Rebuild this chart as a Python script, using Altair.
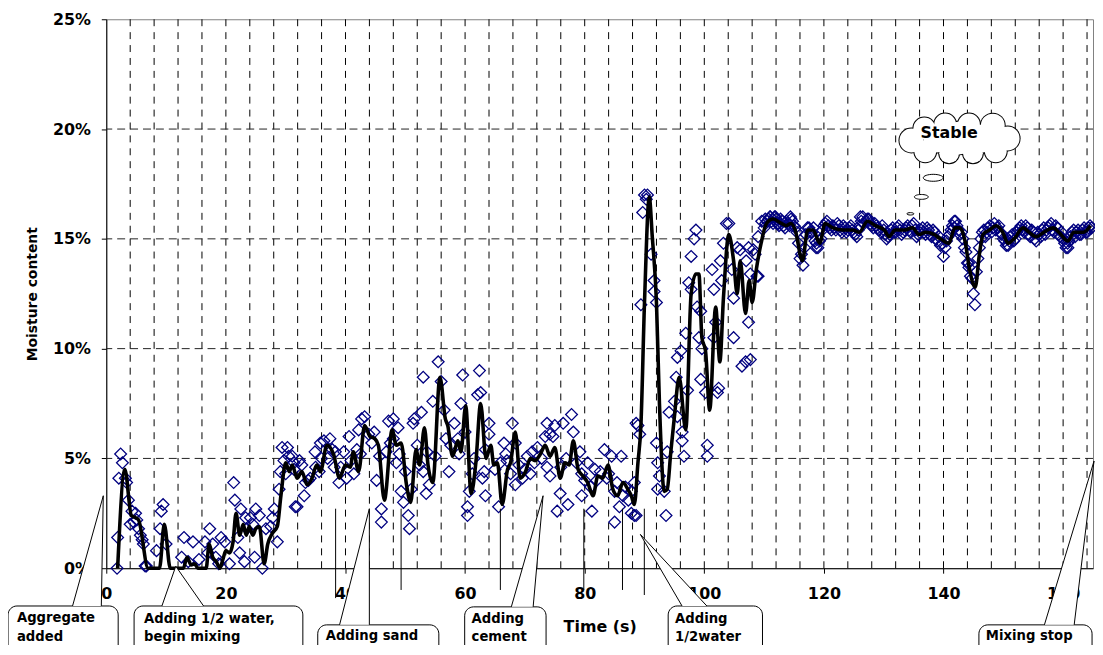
import altair as alt
import pandas as pd

# ---------------- data ----------------
# smoothed (black) line
line_t = [1.9, 3.1, 4.2, 4.9, 5.4, 7.0, 8.9, 9.7, 10.7, 12.9,
          13.5, 14.2, 14.8, 15.3, 16.7, 17.2, 17.8, 18.4, 19.0, 19.5,
          20.0, 20.6, 21.2, 21.7, 22.3, 22.9, 23.4, 23.9, 24.5, 25.0,
          25.6, 26.4, 27.0, 27.8, 28.6, 29.2, 30.0, 30.6, 31.1, 31.9,
          32.7, 33.6, 34.4, 35.2, 35.8, 36.9, 38.0, 39.0, 40.0, 40.8,
          41.3, 42.2, 43.2, 44.1, 44.9, 45.5, 46.5, 47.8, 48.5, 49.3,
          50.2, 50.9, 51.8, 52.4, 53.2, 53.8, 54.6, 55.8, 56.7, 57.1,
          57.9, 58.8, 59.3, 60.1, 61.0, 61.8, 62.6, 63.5, 64.3, 64.8,
          65.4, 66.2, 67.1, 67.6, 68.4, 69.2, 70.1, 70.9, 71.7, 72.6,
          73.4, 74.2, 75.0, 75.9, 76.7, 77.4, 78.1, 78.9, 79.7, 80.5,
          81.4, 82.2, 83.0, 83.9, 84.7, 85.5, 86.4, 87.2, 87.8, 88.3,
          88.9, 89.4, 90.0, 90.8, 91.3, 92.0, 92.5, 93.3, 93.8, 94.4,
          95.0, 95.8, 96.9, 97.8, 98.6, 99.1, 99.6, 100.2, 100.9, 101.9,
          102.6, 103.2, 104.1, 104.9, 105.5, 106.0, 106.9, 107.5, 108.0, 108.7,
          109.5, 110.4, 111.5, 112.9, 113.7, 114.5, 115.2, 116.4, 117.3, 118.2,
          119.3, 120.2, 121.5, 123.2, 124.8, 125.9, 127.3, 128.6, 130.1, 130.9,
          131.9, 133.4, 134.8, 135.9, 137.0, 138.4, 139.5, 140.9, 141.9, 142.7,
          143.6, 144.3, 145.3, 146.0, 146.6, 147.7, 148.8, 149.9, 150.8, 151.8,
          153.3, 154.3, 155.5, 156.8, 158.3, 159.3, 160.8, 161.8, 163.4, 164.6]
line_v = [0, 4.5, 2.4, 2.3, 2.2, 0, 0, 2.0, 0, 0,
          0.5, 0.15, 0.2, 0, 0, 1.1, 0.5, 0.3, 0, 0.4,
          0.8, 0.7, 1.2, 2.5, 1.5, 2.0, 1.5, 1.9, 1.5, 1.8,
          1.9, 0.2, 1.1, 1.6, 1.9, 3.3, 4.8, 4.4, 4.7, 4.1,
          4.4, 3.8, 4.1, 4.7, 4.4, 5.6, 5.2, 4.1, 4.7, 4.6,
          5.3, 4.4, 6.5, 6.0, 5.9, 5.6, 3.1, 6.3, 5.6, 5.7,
          3.8, 3.0, 5.4, 4.7, 6.4, 4.7, 3.9, 8.7, 6.8, 6.5,
          5.1, 5.8, 5.3, 7.4, 3.4, 4.8, 7.5, 5.0, 5.6, 4.7,
          4.8, 2.9, 4.5, 4.8, 6.2, 4.1, 4.4, 5.0, 4.9, 5.2,
          5.6, 5.1, 5.5, 4.1, 4.8, 4.7, 5.8, 4.5, 4.2, 3.9,
          3.3, 4.2, 4.1, 4.7, 3.6, 3.3, 3.9, 3.6, 3.3, 2.9,
          4.8, 6.5, 12.1, 16.9, 15.1, 12.1, 7.5, 3.5, 3.6, 5.3,
          6.9, 8.7, 6.3, 12.5, 13.4, 13.4, 10.5, 9.9, 7.2, 11.9,
          9.4, 12.3, 15.2, 14.0, 12.5, 14.0, 11.6, 13.1, 12.1, 13.6,
          14.8, 15.7, 15.9, 15.7, 15.6, 15.7, 15.4, 14.0, 15.4, 15.4,
          14.8, 15.7, 15.5, 15.4, 15.4, 15.3, 15.8, 15.6, 15.4, 15.1,
          15.4, 15.4, 15.5, 15.2, 15.3, 15.2, 15.0, 14.8, 15.5, 15.5,
          14.9, 13.7, 12.8, 14.3, 15.2, 15.4, 15.6, 15.3, 14.8, 15.0,
          15.5, 15.3, 15.1, 15.3, 15.5, 15.3, 14.9, 15.3, 15.3, 15.6]

# raw readings (diamonds), 0 - 113 s
scatter_t = [1.8, 1.9, 2.1, 2.4, 2.7, 3.2, 3.4, 3.7, 4.0, 4.3,
             4.6, 4.9, 5.1, 5.4, 5.7, 6.0, 6.2, 6.5, 6.7, 8.4,
             9.0, 9.2, 9.5, 10.0, 12.6, 13.0, 13.7, 14.5, 15.5, 16.5,
             17.0, 17.3, 17.8, 18.3, 18.8, 19.2, 19.8, 20.6, 21.3, 21.5,
             22.0, 22.3, 22.5, 23.1, 23.3, 23.5, 24.1, 24.5, 24.8, 25.0,
             25.6, 26.1, 26.7, 27.5, 27.8, 28.1, 28.6, 28.9, 29.1, 29.4,
             29.7, 30.0, 30.3, 30.5, 31.1, 31.4, 31.6, 31.4, 31.9, 32.3,
             32.7, 33.1, 33.3, 34.1, 34.9, 35.6, 35.8, 36.4, 37.0, 37.4,
             38.1, 38.3, 38.9, 39.7, 40.2, 40.6, 41.4, 41.9, 42.2, 42.7,
             43.2, 43.9, 44.4, 45.2, 46.0, 46.0, 46.8, 47.2, 48.0, 48.0,
             48.5, 48.8, 49.3, 49.7, 50.5, 50.7, 51.3, 51.5, 52.4, 52.7,
             53.0, 53.0, 53.5, 54.0, 54.6, 55.5, 56.0, 56.5, 56.8, 57.3,
             58.2, 58.8, 59.3, 59.6, 60.4, 60.4, 60.7, 61.5, 62.1, 62.4,
             62.9, 33.8, 35.0, 36.0, 37.8, 39.2, 40.9, 42.5, 44.8, 45.7,
             47.5, 49.0, 50.0, 51.0, 52.0, 53.6, 55.0, 57.6, 59.0, 60.0,
             61.2, 62.6, 63.2, 63.4, 63.4, 64.0, 64.0, 65.6, 65.9, 66.5,
             66.8, 67.6, 67.9, 68.4, 68.4, 69.6, 70.4, 70.9, 71.2, 72.1,
             73.4, 73.7, 73.7, 74.2, 74.2, 74.7, 75.0, 75.4, 75.9, 76.4,
             77.2, 77.8, 78.1, 79.2, 79.5, 79.5, 80.5, 81.2, 81.7, 83.3,
             83.7, 84.5, 85.0, 85.0, 85.8, 86.1, 86.4, 87.8, 87.8, 88.3,
             88.6, 88.3, 65.0, 67.0, 69.0, 70.0, 71.6, 72.8, 76.0, 76.9,
             78.6, 80.0, 81.0, 82.0, 82.6, 84.0, 85.4, 86.8, 87.3, 88.6,
             88.9, 89.2, 89.4, 89.7, 90.0, 90.5, 91.1, 91.6, 91.6, 92.0,
             92.0, 92.2, 92.5, 92.2, 93.3, 93.6, 93.8, 94.1, 95.0, 95.5,
             95.3, 95.5, 96.1, 96.3, 96.3, 96.6, 96.9, 97.2, 97.4, 97.8,
             97.8, 98.3, 98.6, 98.8, 99.1, 99.4, 99.4, 99.6, 100.2, 100.5,
             100.5, 101.3, 101.6, 101.6, 101.9, 102.2, 102.4, 102.7, 102.9, 103.2,
             103.7, 104.1, 104.6, 104.9, 104.9, 105.5, 106.0, 106.3, 106.9, 107.0,
             107.4, 107.4, 107.7, 107.7, 108.2, 108.5, 108.8, 109.0, 109.0, 109.6,
             110.2, 111.0, 111.9, 112.4, 90.3, 114.4, 118.7, 126.1, 141.8, 144.2,
             150.8, 160.8]
scatter_v = [0.0, 1.4, 4.1, 5.2, 4.8, 4.1, 3.9, 3.1, 2.0, 2.6,
             2.1, 2.5, 2.2, 1.8, 1.5, 1.3, 1.1, 0.1, 0.1, 0.8,
             1.8, 2.6, 2.9, 1.1, 0.5, 1.4, 0.3, 1.2, 0.4, 1.2,
             0.7, 1.8, 1.1, 0.5, 0.2, 1.4, 1.2, 0.2, 3.9, 3.1,
             1.4, 0.7, 2.7, 0.3, 2.3, 1.8, 2.3, 2.0, 0.5, 2.7,
             2.4, 0.0, 1.8, 1.9, 2.3, 2.7, 1.2, 3.6, 4.4, 5.5,
             4.9, 4.3, 5.5, 5.1, 5.1, 4.8, 2.8, 4.5, 2.8, 4.9,
             4.7, 3.3, 3.9, 4.1, 5.3, 4.4, 5.7, 5.8, 5.0, 5.9,
             4.6, 5.3, 3.9, 5.3, 4.1, 6.0, 4.3, 5.4, 6.3, 6.8,
             6.9, 6.1, 5.7, 4.0, 2.7, 2.1, 5.3, 6.7, 6.8, 5.9,
             4.8, 6.4, 3.5, 3.0, 2.4, 1.8, 6.6, 6.8, 4.7, 7.1,
             4.4, 8.7, 3.4, 3.8, 7.6, 9.4, 8.5, 7.2, 5.9, 4.4,
             6.6, 5.9, 7.5, 8.8, 2.8, 2.4, 3.5, 5.0, 7.9, 9.0,
             4.1, 4.0, 4.6, 5.0, 5.4, 4.6, 4.9, 5.2, 6.2, 5.1,
             5.7, 5.2, 4.4, 3.6, 5.6, 5.3, 5.1, 5.6, 5.2, 6.2,
             4.3, 8.0, 4.4, 5.4, 3.3, 6.6, 6.1, 2.8, 4.8, 5.7,
             5.2, 4.3, 6.6, 5.7, 3.8, 4.1, 5.1, 4.3, 5.3, 5.5,
             6.0, 6.6, 4.6, 6.1, 4.2, 6.0, 6.5, 2.6, 3.4, 6.6,
             2.9, 7.0, 6.2, 5.3, 4.3, 3.3, 4.8, 2.6, 4.5, 5.4,
             4.1, 5.1, 3.5, 2.1, 2.8, 5.1, 3.3, 2.5, 3.5, 2.4,
             6.6, 3.9, 4.5, 4.9, 4.7, 4.5, 4.8, 5.0, 4.6, 5.0,
             4.8, 4.0, 3.7, 4.0, 4.4, 4.3, 3.9, 3.7, 3.1, 2.4,
             6.5, 6.1, 12.0, 16.2, 17.0, 17.0, 14.3, 13.1, 12.6, 12.1,
             5.7, 4.8, 4.2, 3.6, 3.5, 2.4, 5.3, 7.1, 7.6, 6.9,
             8.7, 9.6, 9.9, 6.2, 5.8, 5.1, 10.7, 8.1, 13.0, 14.2,
             12.7, 15.0, 15.4, 11.9, 10.5, 11.7, 8.6, 10.0, 8.0, 5.6,
             5.1, 13.6, 12.7, 10.5, 11.2, 8.0, 8.2, 14.0, 13.1, 14.8,
             15.7, 15.7, 13.6, 12.3, 10.5, 14.6, 14.5, 9.2, 9.4, 14.0,
             14.6, 11.2, 13.4, 9.5, 14.5, 14.3, 13.3, 15.1, 13.3, 15.8,
             15.9, 16.0, 16.0, 15.7, 16.8, 16.0, 14.6, 16.0, 15.8, 13.9,
             14.7, 14.6]

# stable phase readings, one every 0.5 s starting at 110.0 s and at 110.25 s
stable_a = [15.5, 15.8, 16.0, 15.7, 15.9, 15.6, 15.8, 15.5, 15.7, 15.9,
            15.6, 15.3, 14.1, 13.8, 15.2, 15.5, 15.3, 14.9, 14.6, 15.0,
            15.6, 15.8, 15.5, 15.6, 15.4, 15.6, 15.3, 15.5, 15.4, 15.6,
            15.3, 15.1, 15.6, 16.0, 15.8, 15.9, 15.6, 15.7, 15.5, 15.3,
            15.4, 15.0, 15.2, 15.5, 15.3, 15.6, 15.2, 15.4, 15.6, 15.3,
            15.7, 15.1, 15.3, 15.5, 15.2, 15.4, 15.1, 15.3, 14.9, 14.7,
            14.2, 14.9, 15.2, 15.6, 15.8, 15.4, 15.3, 14.6, 13.9, 13.3,
            12.5, 13.5, 14.6, 15.3, 15.1, 15.5, 15.3, 15.7, 15.5, 15.3,
            15.0, 14.7, 14.9, 15.2, 15.0, 15.4, 15.6, 15.3, 15.5, 15.1,
            15.3, 14.9, 15.2, 15.4, 15.2, 15.5, 15.7, 15.3, 15.5, 15.1,
            15.0, 14.6, 14.9, 15.3, 15.1, 15.4, 15.2, 15.5, 15.3, 15.6]
stable_b = [15.7, 15.9, 15.8, 16.0, 15.7, 15.9, 15.6, 15.8, 15.6, 15.8,
            15.5, 14.8, 14.3, 14.6, 15.5, 15.3, 15.5, 14.8, 14.9, 15.4,
            15.7, 15.6, 15.4, 15.5, 15.7, 15.4, 15.6, 15.3, 15.5, 15.4,
            15.2, 15.4, 15.8, 15.7, 15.9, 15.7, 15.5, 15.6, 15.4, 15.6,
            15.2, 15.1, 15.4, 15.3, 15.5, 15.4, 15.3, 15.5, 15.4, 15.6,
            15.4, 15.2, 15.4, 15.3, 15.5, 15.2, 15.4, 15.0, 15.1, 14.8,
            14.6, 15.1, 15.4, 15.5, 15.6, 15.2, 15.0, 14.4, 13.7, 13.2,
            12.0, 14.1, 15.0, 15.4, 15.3, 15.6, 15.5, 15.4, 15.6, 15.2,
            14.9, 15.0, 15.1, 14.9, 15.3, 15.5, 15.4, 15.6, 15.2, 15.4,
            15.0, 15.3, 15.1, 15.5, 15.4, 15.6, 15.4, 15.6, 15.2, 15.3,
            14.8, 14.8, 15.1, 15.4, 15.3, 15.2, 15.4, 15.3, 15.5, 15.5]

x_ticks = [0, 20, 40, 60, 80, 100, 120, 140, 160]
y_ticks = [0, 5, 10, 15, 20, 25]
x_grid = [4, 8, 12, 16, 20, 24, 28, 32, 36, 40, 44, 48, 52, 56, 60, 64, 68, 72, 76, 80,
          84, 88, 92, 96, 100, 104, 108, 112, 116, 120, 124, 128, 132, 136, 140, 144,
          148, 152, 156, 160, 164]
y_grid = [5, 10, 15, 20]

# callouts (time s, moisture %)
box_t1 = [-16.43, 4.65, 35.36, 59.93, 93.96, 145.92]
box_t2 = [1.99, 32.87, 55.61, 73.54, 109.73, 164.84]
box_top = [-1.72, -1.72, -2.58, -1.76, -1.72, -2.58]
box_bottom = [-4.6, -4.6, -4.6, -4.6, -4.6, -4.6]
tip_t = [-0.50, 11.62, 43.99, 73.04, 89.31, 165.17]
tip_v = [3.30, 0.09, 2.71, 3.30, 1.54, 4.88]
base_t1 = [-5.64, 9.30, 39.01, 67.73, 96.28, 156.87]
base_t2 = [-0.83, 16.27, 43.99, 71.38, 100.43, 161.85]
label_text = ["Aggregate", "added", "Adding 1/2 water,", "begin mixing", "Adding sand",
              "Adding", "cement", "Adding", "1/2water", "Mixing stop"]
label_t = [-14.94, -14.94, 6.31, 6.31, 36.69, 61.09, 61.09, 95.12, 95.12, 147.08]
label_v = [-2.26, -3.12, -2.31, -3.12, -3.07, -2.31, -3.12, -2.31, -3.12, -3.07]
event_t = [38.35, 49.30, 65.90, 79.85, 86.32, 89.97]
event_top = [2.71, 2.71, 2.71, 2.71, 2.71, 2.71]
event_bottom = [-1.36, -0.99, -0.99, -0.99, -0.99, -1.22]

# "Stable" thought cloud
cloud_t = [134.63, 136.79, 140.27, 144.26, 148.24, 150.73, 148.74, 144.92, 140.94, 136.95,
           142.60, 138.94, 146.58, 142.60]
cloud_v = [19.48, 20.03, 20.21, 20.21, 20.16, 19.57, 18.99, 18.90, 18.90, 18.99,
           19.57, 19.57, 19.57, 19.89]
cloud_d = [24, 22, 22, 22, 24, 24, 22, 20, 20, 22, 32, 28, 28, 20]
bubble_t = [138.28, 136.29, 134.46]
bubble_v = [17.78, 16.91, 16.14]
bubble_w = [20, 14, 7]
stable_label = ["Stable"]
stable_label_t = [140.94]
stable_label_v = [19.80]

# ---------------- tables ----------------
line_df = pd.DataFrame({"t": line_t, "v": line_v})
pts_t = (scatter_t + [110.0 + 0.5 * i for i in range(len(stable_a))]
         + [110.25 + 0.5 * i for i in range(len(stable_b))])
pts_v = scatter_v + stable_a + stable_b
pts_df = pd.DataFrame({"t": pts_t, "v": pts_v})
xgrid_df = pd.DataFrame({"t": x_grid})
ygrid_df = pd.DataFrame({"v": y_grid})
box_df = pd.DataFrame({"t": box_t1, "t2": box_t2, "v": box_top, "v2": box_bottom})
wedge_rows = []
for i in range(len(tip_t)):
    wedge_rows.append({"id": i, "k": 0, "t": base_t1[i], "v": box_top[i]})
    wedge_rows.append({"id": i, "k": 1, "t": tip_t[i], "v": tip_v[i]})
    wedge_rows.append({"id": i, "k": 2, "t": base_t2[i], "v": box_top[i]})
wedge_df = pd.DataFrame(wedge_rows)
label_df = pd.DataFrame({"t": label_t, "v": label_v, "label": label_text})
event_df = pd.DataFrame({"t": event_t, "v": event_top, "v2": event_bottom})
cloud_df = pd.DataFrame({"t": cloud_t, "v": cloud_v,
                         "s_out": [(d + 2) ** 2 for d in cloud_d],
                         "s_in": [d ** 2 for d in cloud_d]})
bubble_df = pd.DataFrame({"t": bubble_t, "v": bubble_v, "s": [w ** 2 for w in bubble_w]})
stable_df = pd.DataFrame({"t": stable_label_t, "v": stable_label_v, "label": stable_label})

# ---------------- encodings ----------------
XS = alt.Scale(domain=[0, 165], nice=False, zero=False)
YS = alt.Scale(domain=[0, 25], nice=False, zero=False)
FONT = "DejaVu Sans"

x_axis = alt.Axis(values=x_ticks, title="Time (s)", titleFontSize=16, titlePadding=17,
                  grid=False, tickSize=5, labelPadding=13, labelFlush=False,
                  labelOverlap=False)
y_axis = alt.Axis(values=y_ticks, title="Moisture content", titleFontSize=14,
                  titlePadding=13, grid=False, tickSize=5, labelPadding=11,
                  labelExpr="datum.value + '%'")


def X():
    return alt.X("t:Q", scale=XS, axis=x_axis)


def Y():
    return alt.Y("v:Q", scale=YS, axis=y_axis)


vgrid = alt.Chart(xgrid_df).mark_rule(color="#000000", strokeWidth=1,
                                      strokeDash=[7, 6]).encode(x=X())
hgrid = alt.Chart(ygrid_df).mark_rule(color="#222222", strokeWidth=1,
                                      strokeDash=[8, 5]).encode(y=Y())
points = alt.Chart(pts_df).mark_point(shape="diamond", filled=False, color="#000080",
                                      size=140, strokeWidth=1.3, opacity=1).encode(
    x=X(), y=Y())
line = alt.Chart(line_df).mark_line(color="black", strokeWidth=3.6,
                                    interpolate="monotone").encode(x=X(), y=Y())
events = alt.Chart(event_df).mark_rule(color="black", strokeWidth=1).encode(
    x=X(), y=Y(), y2="v2:Q")
boxes = alt.Chart(box_df).mark_rect(fill="white", stroke="black", strokeWidth=1,
                                    cornerRadius=9).encode(x=X(), x2="t2:Q", y=Y(), y2="v2:Q")
wedges = alt.Chart(wedge_df).mark_line(color="black", fill="white", strokeWidth=1,
                                       interpolate="linear").encode(
    x=X(), y=Y(), order="k:Q", detail="id:N")
labels = alt.Chart(label_df).mark_text(align="left", baseline="middle", font=FONT,
                                       fontWeight="bold", fontSize=13.3,
                                       color="black").encode(x=X(), y=Y(), text="label:N")
cloud_out = alt.Chart(cloud_df).mark_point(shape="circle", filled=True, color="black",
                                           opacity=1, strokeWidth=0).encode(
    x=X(), y=Y(), size=alt.Size("s_out:Q", scale=None))
cloud_in = alt.Chart(cloud_df).mark_point(shape="circle", filled=True, color="white",
                                          opacity=1, strokeWidth=0).encode(
    x=X(), y=Y(), size=alt.Size("s_in:Q", scale=None))
stable_txt = alt.Chart(stable_df).mark_text(align="center", baseline="middle", font=FONT,
                                            fontWeight="bold", fontSize=16,
                                            color="black").encode(x=X(), y=Y(), text="label:N")
bubbles = alt.Chart(bubble_df).mark_point(
    shape="M -1 0 A 1 0.35 0 1 1 1 0 A 1 0.35 0 1 1 -1 0 Z",
    filled=False, color="black", strokeWidth=1, opacity=1).encode(
    x=X(), y=Y(), size=alt.Size("s:Q", scale=None))

chart = alt.layer(
    vgrid, hgrid, points, line, events, boxes, wedges, labels,
    cloud_out, cloud_in, stable_txt, bubbles
).properties(
    width=994, height=553,
    padding={"left": 99, "top": 9, "right": 2, "bottom": 75},
    autosize=alt.AutoSizeParams(type="none"),
).configure_view(
    stroke="#808080", strokeWidth=1
).configure_axis(
    grid=False,
    domainColor="black", domainWidth=1, tickColor="black", tickWidth=1,
    labelFont=FONT, labelFontSize=16, labelFontWeight="bold", labelColor="black",
    titleFont=FONT, titleFontWeight="bold", titleColor="black"
)

chart.save("out.html", embed_options={"renderer": "svg", "actions": False})
